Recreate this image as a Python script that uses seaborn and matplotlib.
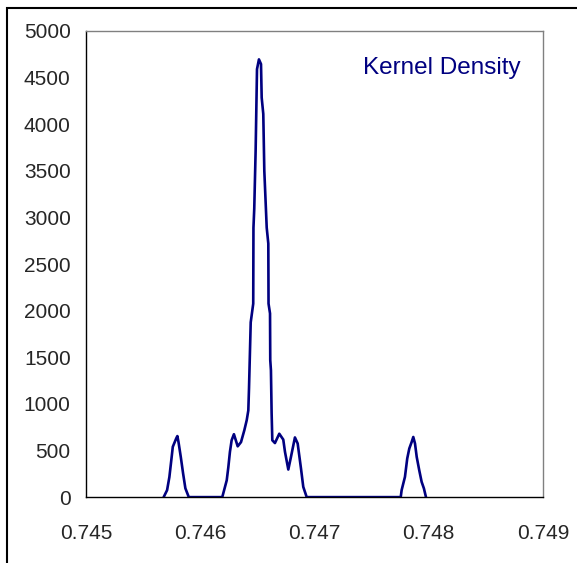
#!/usr/bin/env python3
"""
Kernel density curve, Excel-style.
"""
import matplotlib
matplotlib.use("Agg")
import matplotlib.pyplot as plt
from matplotlib.patches import Rectangle
import pandas as pd
import seaborn as sns

# values
x_vals = [
    0.74568, 0.74571, 0.74573, 0.74575, 0.74576, 0.74579, 0.74580, 0.74581,
    0.74583, 0.74585, 0.74587, 0.74590,
    0.746193, 0.746232, 0.746246, 0.746260, 0.746275, 0.746295, 0.746328,
    0.746357, 0.746386, 0.746407, 0.746421, 0.746427, 0.746442, 0.746464,
    0.746466, 0.746473, 0.746485, 0.746488, 0.746497, 0.746514, 0.746532,
    0.746538, 0.746552, 0.746561, 0.746582, 0.746596, 0.746598, 0.746611,
    0.746613, 0.746619, 0.746625, 0.746631, 0.746654, 0.746692, 0.746727,
    0.746742, 0.746771, 0.746794, 0.746829, 0.746853, 0.746882, 0.746902,
    0.746932,
    0.747755, 0.747763, 0.747792, 0.747812, 0.747830, 0.747851, 0.747865,
    0.747880, 0.747895, 0.747917, 0.747938, 0.747958, 0.747976,
]
density = [
    0, 75, 215, 430, 540, 630, 655, 590,
    430, 255, 95, 0,
    0, 180, 320, 485, 610, 675, 545,
    590, 717, 825, 930, 1165, 1875, 2075,
    2890, 3095, 3715, 3930, 4590, 4695, 4645,
    4285, 4110, 3500, 2890, 2720, 2075, 1970,
    1470, 1360, 900, 610, 580, 680, 617,
    485, 296, 430, 640, 575, 307, 110,
    0,
    0, 75, 217, 414, 521, 592, 645,
    575, 431, 289, 164, 93, 0,
]

x_ticks = [0.745, 0.746, 0.747, 0.748, 0.749]
y_ticks = [0, 500, 1000, 1500, 2000, 2500, 3000, 3500, 4000, 4500, 5000]

df = pd.DataFrame({"x": x_vals, "density": density})

sns.set_style("white")
plt.rcParams["font.family"] = ["Liberation Sans", "DejaVu Sans"]

fig = plt.figure(figsize=(5.77, 5.63), dpi=100)
ax = fig.add_axes([0.149, 0.117, 0.792, 0.828])

sns.lineplot(data=df, x="x", y="density", color="#000080", linewidth=1.9,
             sort=False, estimator=None, ax=ax)

ax.set_xlim(0.745, 0.749)
ax.set_ylim(0, 5000)
ax.set_xticks(x_ticks)
ax.set_xticklabels([f"{t:.3f}" for t in x_ticks])
ax.set_yticks(y_ticks)
ax.set_xlabel("")
ax.set_ylabel("")
ax.tick_params(axis="both", labelsize=15, length=5, width=1, color="black",
               direction="out")
ax.tick_params(axis="x", pad=14)
ax.tick_params(axis="y", pad=6)

for side in ["left", "bottom"]:
    ax.spines[side].set_color("black")
    ax.spines[side].set_linewidth(1)
for side in ["top", "right"]:
    ax.spines[side].set_color("#808080")
    ax.spines[side].set_linewidth(1)
    ax.spines[side].set_visible(True)

ax.text(0.952, 0.921, "Kernel Density", transform=ax.transAxes,
        ha="right", va="center", fontsize=17.5, color="#000080")

# outer chart border (cut off at right and bottom in the reference)
fig.add_artist(Rectangle((7 / 577, -0.2), 1.5, 0.2 + (563 - 8) / 563,
                         transform=fig.transFigure, fill=False,
                         edgecolor="black", linewidth=1.5))

plt.savefig("out.png", dpi=100)
